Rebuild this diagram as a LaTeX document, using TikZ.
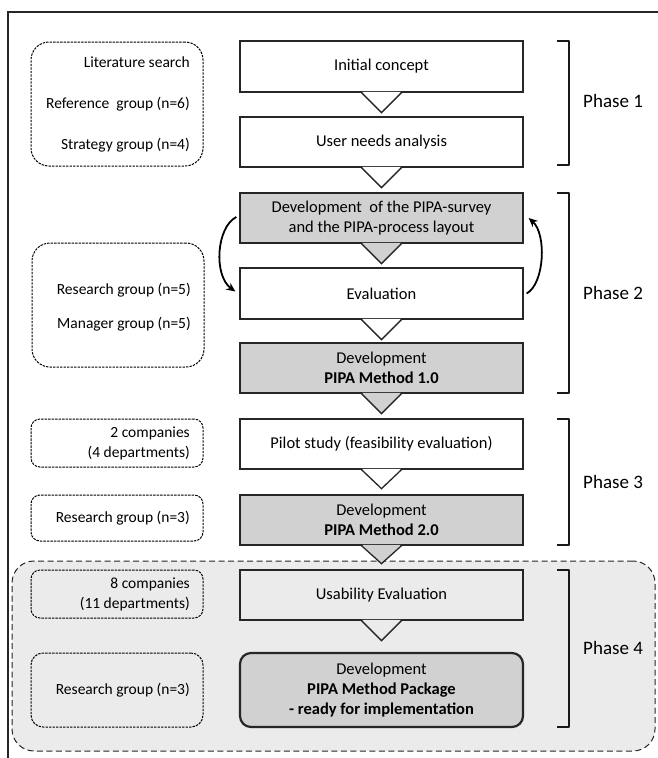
\documentclass[tikz,border=0pt]{standalone}
\usepackage{fontspec}
\setmainfont{Carlito}
\usetikzlibrary{calc,arrows.meta}
\definecolor{boxgray}{HTML}{D1D1D1}
\definecolor{areagray}{HTML}{EBEBEB}
\definecolor{edge}{HTML}{262626}
\tikzset{
 mainbox/.style={draw=edge, line width=1.3pt, minimum width=283pt, minimum height=50pt, inner sep=0pt, align=center, font=\fontsize{16.5}{20}\selectfont, fill=white},
 graybox/.style={mainbox, fill=boxgray},
 sidebox/.style={draw=black, line width=1pt, dash pattern=on 2.4pt off 1.1pt, minimum width=172pt, inner sep=0pt},
 sidetext/.style={anchor=east, align=right, inner sep=0pt},
 tipline/.style={draw=edge, line width=1.3pt, line join=miter},
 bracket/.style={line width=2pt, draw=black!90, line join=round},
 phaselabel/.style={anchor=west, font=\fontsize{19}{22}\selectfont, inner sep=0pt},
 looparrow/.style={line width=1.8pt, draw=black, -{Stealth[length=9pt,width=8pt]}},
 regionbox/.style={draw=edge, line width=1pt, dash pattern=on 6pt off 3.5pt, fill=areagray, rounded corners=22pt, inner sep=0pt},
 frameline/.style={line width=1.3pt, draw=edge}
}
\newcommand\boxtip[3]{%
 \fill[#2] ($(#1.south)+(-19.4,-0.8)$) -- ($(#1.south)+(0,#3)$) -- ($(#1.south)+(19.4,-0.8)$) -- cycle;
 \draw[tipline] ($(#1.south)+(-20,0)$) -- ($(#1.south)+(0,#3)$) -- ($(#1.south)+(20,0)$);}
\begin{document}
\begin{tikzpicture}[x=1pt,y=-1pt]
\useasboundingbox (0,0) rectangle (658,758);
% outer frame
\coordinate (fbl) at (8,758);
\coordinate (ftl) at (8,12);
\coordinate (ftr) at (658,12);
\draw[frameline] (fbl) -- (ftl) -- (ftr);
% phase 4 area
\node[regionbox, minimum width=643pt, minimum height=190pt] (area) at (333.5,656) {};
% side boxes
\node[sidebox, rounded corners=18pt, minimum height=124pt] (l1) at (117,104) {};
\node[sidetext, font=\fontsize{15.5}{41}\selectfont] (t1) at (190,104) {Literature search\\Reference~ group (n=6)\\Strategy group (n=4)};
\node[sidebox, rounded corners=18pt, minimum height=124pt] (l2) at (118,305) {};
\node[sidetext, font=\fontsize{15.5}{34}\selectfont] (t2) at (191,307) {Research group (n=5)\\Manager group (n=5)};
\node[sidebox, rounded corners=9pt, minimum height=48pt] (l3) at (117,443) {};
\node[sidetext, font=\fontsize{15.5}{20}\selectfont] (t3) at (190,443) {2 companies\\(4 departments)};
\node[sidebox, rounded corners=9pt, minimum height=46pt] (l4) at (117,518) {};
\node[sidetext, font=\fontsize{15.5}{20}\selectfont] (t4) at (190,518) {Research group (n=3)};
\node[sidebox, rounded corners=9pt, minimum height=48pt] (l5) at (117,594) {};
\node[sidetext, font=\fontsize{15.5}{20}\selectfont] (t5) at (190,594) {8 companies\\(11 departments)};
\node[sidebox, rounded corners=12pt, minimum height=74pt] (l6) at (117,690) {};
\node[sidetext, font=\fontsize{15.5}{20}\selectfont] (t6) at (190,690) {Research group (n=3)};
% main column
\node[mainbox, minimum height=51pt] (b1) at (381.5,66.5) {Initial concept};
\node[mainbox] (b2) at (381.5,142) {User needs analysis};
\node[graybox] (b3) at (381.5,218) {Development~ of the PIPA-survey\\and the PIPA-process layout};
\node[mainbox, minimum height=51pt] (b4) at (381.5,293.5) {Evaluation};
\node[graybox] (b5) at (381.5,368) {Development\\\textbf{PIPA Method 1.0}};
\node[mainbox] (b6) at (381.5,444) {Pilot study (feasibility evaluation)};
\node[graybox] (b7) at (381.5,520) {Development\\\textbf{PIPA Method 2.0}};
\node[mainbox, fill=areagray] (b8) at (381.5,595) {Usability Evaluation};
\node[graybox, rounded corners=11pt, line width=2.2pt, minimum height=74pt] (b9) at (381.5,690) {Development\\\textbf{PIPA Method Package}\\\textbf{- ready for implementation}};
% callout tips
\boxtip{b1}{white}{20}
\boxtip{b2}{white}{20}
\boxtip{b3}{boxgray}{20}
\boxtip{b4}{white}{20}
\boxtip{b5}{boxgray}{20}
\boxtip{b6}{white}{19}
\boxtip{b7}{boxgray}{18}
\boxtip{b8}{areagray}{20}
% loop arrows
\draw[looparrow] ($(b3.west)+(-3,-1)$) .. controls +(-20,10) and +(-22,-16) .. ($(b4.west)+(-4,-2)$);
\draw[looparrow] ($(b4.east)+(3,0)$) .. controls +(18,-10) and +(18,16) .. ($(b3.east)+(5,0)$);
% brackets
\draw[bracket] (557,41) -- (569,41) -- (569,165) -- (557,165);
\draw[bracket] (557,193) -- (569,193) -- (569,393) -- (557,393);
\draw[bracket] (557,419) -- (569,419) -- (569,545) -- (557,545);
\draw[bracket] (557,570) -- (569,570) -- (569,727) -- (557,727);
\node[phaselabel] (p1) at (583,101) {Phase 1};
\node[phaselabel] (p2) at (583,293) {Phase 2};
\node[phaselabel] (p3) at (583,482) {Phase 3};
\node[phaselabel] (p4) at (583,648) {Phase 4};
\end{tikzpicture}
\end{document}
